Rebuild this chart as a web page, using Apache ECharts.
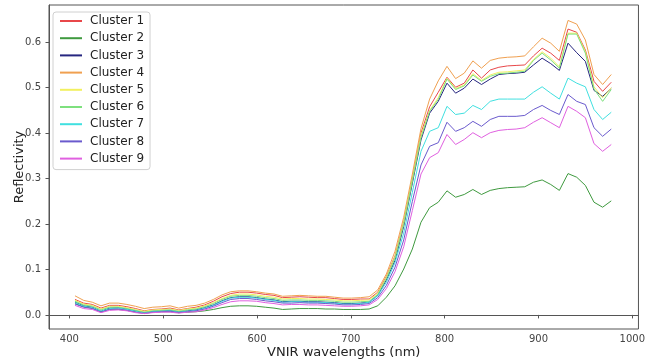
<!DOCTYPE html>
<html>
<head>
<meta charset="utf-8">
<script src="https://cdn.jsdelivr.net/npm/echarts@6/dist/echarts.min.js"></script>
<style>html,body{margin:0;padding:0;background:#fff;}#c{width:648px;height:364px;}</style>
</head>
<body>
<div id="c"></div>
<script>
var wavelengths = [406.0,415.2,424.4,433.7,442.9,452.1,461.3,470.5,479.8,489.0,498.2,507.4,516.6,525.9,535.1,544.3,553.5,562.7,572.0,581.2,590.4,599.6,608.8,618.1,627.3,636.5,645.7,654.9,664.2,673.4,682.6,691.8,701.0,710.3,719.5,728.7,737.9,747.1,756.4,765.6,774.8,784.0,793.2,802.5,811.7,820.9,830.1,839.3,848.6,857.8,867.0,876.2,885.4,894.7,903.9,913.1,922.3,931.5,940.8,950.0,959.2,968.4,977.6];

var cluster1 = [0.034,0.026,0.023,0.015,0.021,0.021,0.018,0.014,0.009,0.012,0.013,0.015,0.011,0.014,0.017,0.022,0.030,0.040,0.047,0.050,0.050,0.048,0.045,0.043,0.038,0.039,0.040,0.039,0.038,0.038,0.036,0.034,0.034,0.035,
0.035,0.050,0.085,0.130,0.205,0.300,0.400,0.458,0.490,0.523,0.501,0.510,0.539,0.521,0.539,0.545,0.548,0.549,0.550,0.570,0.587,0.576,0.560,0.629,0.622,0.583,0.514,0.492,0.512];
var cluster2 = [0.025,0.018,0.015,0.007,0.013,0.012,0.010,0.007,0.004,0.006,0.007,0.007,0.005,0.006,0.007,0.009,0.012,0.016,0.019,0.020,0.020,0.019,0.017,0.015,0.012,0.013,0.014,0.014,0.014,0.013,0.013,0.012,0.012,0.012,
0.013,0.020,0.039,0.064,0.101,0.145,0.204,0.236,0.248,0.273,0.259,0.265,0.276,0.265,0.274,0.278,0.280,0.281,0.282,0.292,0.297,0.287,0.274,0.311,0.303,0.285,0.248,0.237,0.251];
var cluster3 = [0.028,0.020,0.017,0.008,0.015,0.016,0.013,0.009,0.005,0.008,0.009,0.010,0.007,0.009,0.011,0.016,0.022,0.031,0.038,0.040,0.040,0.038,0.035,0.033,0.029,0.030,0.030,0.029,0.029,0.028,0.027,0.025,0.025,0.026,
0.028,0.043,0.077,0.120,0.195,0.290,0.385,0.444,0.470,0.510,0.488,0.499,0.519,0.507,0.519,0.529,0.531,0.532,0.534,0.550,0.565,0.553,0.538,0.598,0.577,0.558,0.494,0.481,0.499];
var cluster4 = [0.042,0.032,0.028,0.020,0.026,0.026,0.023,0.019,0.014,0.017,0.018,0.020,0.015,0.019,0.021,0.026,0.034,0.044,0.051,0.053,0.053,0.051,0.048,0.046,0.041,0.042,0.043,0.042,0.041,0.041,0.039,0.037,0.037,0.038,
0.040,0.055,0.090,0.140,0.215,0.310,0.410,0.475,0.515,0.547,0.520,0.532,0.559,0.543,0.560,0.565,0.567,0.568,0.570,0.590,0.609,0.598,0.580,0.648,0.640,0.605,0.529,0.507,0.529];
var cluster5 = [0.032,0.024,0.021,0.013,0.019,0.019,0.016,0.012,0.008,0.011,0.012,0.013,0.010,0.013,0.015,0.020,0.027,0.036,0.043,0.046,0.046,0.044,0.041,0.039,0.035,0.036,0.036,0.035,0.035,0.034,0.033,0.031,0.031,0.032,
0.033,0.048,0.083,0.128,0.203,0.298,0.395,0.450,0.478,0.521,0.498,0.506,0.531,0.516,0.528,0.534,0.535,0.537,0.539,0.562,0.579,0.565,0.546,0.620,0.620,0.580,0.502,0.478,0.500];
var cluster6 = [0.030,0.022,0.019,0.011,0.017,0.017,0.014,0.010,0.006,0.009,0.010,0.011,0.008,0.011,0.013,0.018,0.025,0.034,0.041,0.043,0.043,0.041,0.038,0.036,0.032,0.033,0.033,0.032,0.032,0.031,0.030,0.028,0.028,0.029,
0.030,0.045,0.080,0.125,0.200,0.295,0.390,0.448,0.474,0.519,0.496,0.504,0.528,0.514,0.525,0.531,0.532,0.534,0.536,0.560,0.576,0.561,0.543,0.618,0.618,0.576,0.497,0.470,0.496];
var cluster7 = [0.027,0.019,0.016,0.008,0.014,0.015,0.012,0.008,0.004,0.007,0.008,0.009,0.006,0.008,0.010,0.015,0.021,0.030,0.037,0.039,0.039,0.037,0.034,0.032,0.028,0.029,0.029,0.028,0.028,0.027,0.026,0.024,0.024,0.025,
0.028,0.042,0.072,0.115,0.180,0.270,0.360,0.404,0.412,0.459,0.441,0.444,0.461,0.452,0.470,0.475,0.475,0.475,0.475,0.490,0.502,0.488,0.475,0.521,0.510,0.502,0.452,0.430,0.446];
var cluster8 = [0.024,0.017,0.014,0.006,0.012,0.013,0.010,0.006,0.003,0.006,0.007,0.008,0.005,0.007,0.009,0.013,0.019,0.027,0.034,0.036,0.036,0.034,0.031,0.029,0.026,0.026,0.027,0.026,0.026,0.025,0.024,0.022,0.022,0.023,
0.025,0.038,0.065,0.105,0.165,0.250,0.330,0.371,0.379,0.424,0.404,0.412,0.426,0.415,0.430,0.437,0.437,0.437,0.439,0.452,0.461,0.450,0.441,0.485,0.470,0.463,0.412,0.393,0.409];
var cluster9 = [0.021,0.014,0.012,0.005,0.010,0.011,0.009,0.005,0.003,0.005,0.006,0.006,0.004,0.006,0.007,0.011,0.016,0.023,0.029,0.031,0.031,0.030,0.027,0.025,0.022,0.023,0.023,0.022,0.022,0.021,0.020,0.019,0.019,0.020,
0.022,0.034,0.058,0.095,0.150,0.230,0.310,0.346,0.357,0.397,0.375,0.386,0.401,0.390,0.401,0.406,0.408,0.409,0.412,0.424,0.434,0.423,0.412,0.459,0.448,0.434,0.377,0.360,0.375];

var seriesNames = ['Cluster 1','Cluster 2','Cluster 3','Cluster 4','Cluster 5','Cluster 6','Cluster 7','Cluster 8','Cluster 9'];
var seriesValues = [cluster1,cluster2,cluster3,cluster4,cluster5,cluster6,cluster7,cluster8,cluster9];
var seriesColors = ['#e8474a','#3f9a3f','#262680','#f0a050','#f2f060','#7ee07e','#40e0e0','#6a5acd','#e060e0'];

var xTicks = [400,500,600,700,800,900,1000];
var yTicks = [0.0,0.1,0.2,0.3,0.4,0.5,0.6];

var FONT = 'DejaVu Sans';
var chart = echarts.init(document.getElementById('c'), null, {renderer:'canvas'});

var series = seriesNames.map(function(name, i){
  return {
    name: name,
    type: 'line',
    showSymbol: false,
    symbol: 'none',
    animation: false,
    lineStyle: {width: 1, color: seriesColors[i]},
    itemStyle: {color: seriesColors[i]},
    data: wavelengths.map(function(w, j){ return [w, seriesValues[i][j]]; })
  };
});

chart.setOption({
  animation: false,
  backgroundColor: '#fff',
  grid: {left: 49, top: 5, right: 4, bottom: 34, show: true, borderColor: '#555', borderWidth: 1},
  legend: {
    orient: 'vertical',
    left: 53, top: 12,
    padding: [2, 6, 4, 7],
    backgroundColor: '#fff',
    borderColor: '#d0d0d0', borderWidth: 1, borderRadius: 3,
    itemWidth: 22, itemHeight: 2, itemGap: 3.2,
    icon: 'rect',
    textStyle: {fontFamily: FONT, fontSize: 12, color: '#222', lineHeight: 14, padding: [0,0,0,3]},
    data: seriesNames
  },
  xAxis: {
    type: 'value', min: 378.3, max: 1006.6,
    name: 'VNIR wavelengths (nm)', nameLocation: 'middle', nameGap: 17,
    nameMoveOverlap: false,
    nameTextStyle: {fontFamily: FONT, fontSize: 13, color: '#222'},
    axisLine: {show: true, lineStyle: {color: '#555', width: 1}},
    axisTick: {show: true, length: 3.5, lineStyle: {color: '#555'}, customValues: xTicks},
    axisLabel: {fontFamily: FONT, fontSize: 10, color: '#444', margin: 5, customValues: xTicks,
      formatter: function(v){ return String(Math.round(v)); }},
    splitLine: {show: false}
  },
  yAxis: {
    type: 'value', min: -0.031, max: 0.682,
    name: 'Reflectivity', nameLocation: 'middle', nameGap: 23, nameRotate: 90,
    nameMoveOverlap: false,
    nameTextStyle: {fontFamily: FONT, fontSize: 13, color: '#222'},
    axisLine: {show: true, lineStyle: {color: '#555', width: 1}},
    axisTick: {show: true, length: 3.5, lineStyle: {color: '#555'}, customValues: yTicks},
    axisLabel: {fontFamily: FONT, fontSize: 10, color: '#444', margin: 8, customValues: yTicks,
      formatter: function(v){ return v.toFixed(1); }},
    splitLine: {show: false}
  },
  series: series
});
</script>
</body>
</html>
